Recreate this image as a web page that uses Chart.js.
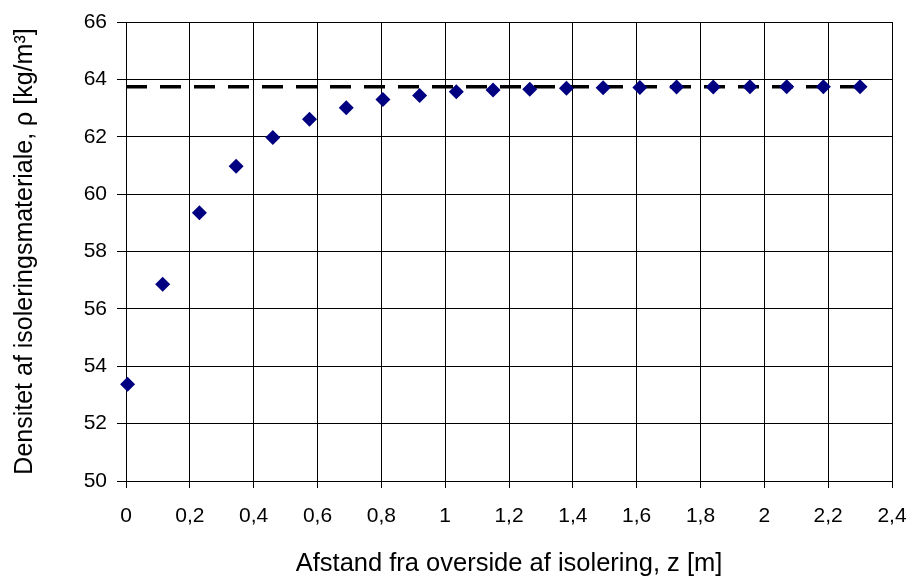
<!DOCTYPE html>
<html>
<head>
<meta charset="utf-8">
<script src="https://cdn.jsdelivr.net/npm/chart.js@4/dist/chart.umd.min.js"></script>
<style>
  html, body { margin: 0; padding: 0; background: #fff; }
  #wrap { width: 909px; height: 579px; }
</style>
</head>
<body>
<div id="wrap"><canvas id="chart" width="909" height="579"></canvas></div>
<script>
// measured density vs depth
var zVals   = [0.005, 0.115, 0.23, 0.345, 0.46, 0.575, 0.69, 0.805, 0.92, 1.035, 1.15,
               1.265, 1.38, 1.495, 1.61, 1.725, 1.84, 1.955, 2.07, 2.185, 2.3];
var rhoVals = [53.37, 56.86, 59.35, 60.97, 61.97, 62.61, 63.01, 63.30, 63.44, 63.57, 63.63,
               63.66, 63.69, 63.71, 63.72, 63.73, 63.73, 63.74, 63.74, 63.74, 63.74];
// equilibrium level (dashed)
var refZ   = [0, 2.3];
var refRho = [63.74, 63.74];

var xTitle = "Afstand fra overside af isolering, z [m]";
var yTitle = "Densitet af isoleringsmateriale, \u03C1 [kg/m\u00B3]";

function pts(xs, ys) {
  return xs.map(function (x, i) { return { x: x, y: ys[i] }; });
}
function comma(v) { return String(v).replace(".", ","); }

var FONT = '"Liberation Sans", Arial, sans-serif';

new Chart(document.getElementById("chart").getContext("2d"), {
  type: "scatter",
  data: {
    datasets: [
      {
        data: pts(zVals, rhoVals),
        pointStyle: "rectRot",
        pointRadius: 7.5,
        pointHoverRadius: 7.5,
        backgroundColor: "#000080",
        borderColor: "#000080",
        borderWidth: 0,
        clip: false,
        order: 0
      },
      {
        type: "line",
        data: pts(refZ, refRho),
        borderColor: "#000",
        borderWidth: 3.5,
        borderDash: [21, 13],
        pointRadius: 0,
        fill: false,
        order: 1
      }
    ]
  },
  options: {
    responsive: false,
    animation: false,
    layout: { padding: { top: 22, right: 17, left: 0, bottom: 0 } },
    plugins: { legend: { display: false }, tooltip: { enabled: false } },
    scales: {
      x: {
        type: "linear",
        min: 0, max: 2.4,
        afterFit: function (s) { s.height = 98; s.paddingLeft = 0; s.paddingRight = 0; },
        ticks: {
          stepSize: 0.2,
          color: "#000",
          padding: 16,
          maxRotation: 0,
          font: { family: FONT, size: 21 },
          callback: function (v) { return comma(Math.round(v * 10) / 10); }
        },
        grid: { color: "#000", lineWidth: 1, tickLength: 7, drawTicks: true },
        border: { color: "#000", width: 1 },
        title: {
          display: true,
          text: xTitle,
          color: "#000",
          font: { family: FONT, size: 25.5 },
          padding: { top: 0, bottom: 0 }
        }
      },
      y: {
        min: 50, max: 66,
        afterFit: function (s) { s.width = 126; s.paddingTop = 0; s.paddingBottom = 0; },
        ticks: {
          stepSize: 2,
          color: "#000",
          padding: 10,
          font: { family: FONT, size: 21 }
        },
        grid: { color: "#000", lineWidth: 1, tickLength: 9, drawTicks: true },
        border: { color: "#000", width: 1 },
        title: {
          display: true,
          text: yTitle,
          color: "#000",
          font: { family: FONT, size: 25 },
          padding: { top: 10, bottom: 0 }
        }
      }
    }
  }
});
</script>
</body>
</html>
